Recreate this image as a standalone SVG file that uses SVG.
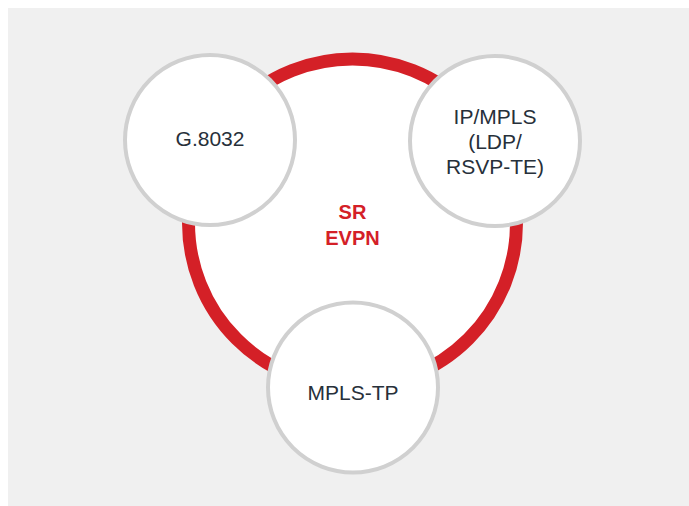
<svg xmlns="http://www.w3.org/2000/svg" width="689" height="506" viewBox="0 0 689 506">
<style>
.node{fill:#ffffff;stroke:#d0d0d0;stroke-width:4}
.lbl{font-family:"Liberation Sans",Arial,sans-serif;font-size:21px;fill:#27303a;text-anchor:middle}
.core{font-family:"Liberation Sans",Arial,sans-serif;font-size:20px;font-weight:bold;fill:#d42027;text-anchor:middle}
</style>
<rect x="0" y="0" width="689" height="506" fill="#ffffff"/>
<rect x="8" y="8" width="681" height="498" fill="#f0f0f0"/>
<g id="connectors">
<circle cx="352.5" cy="223" r="164" fill="#ffffff" stroke="#d42027" stroke-width="13"/>
</g>
<g id="sr-evpn">
<text class="core" x="352.5" y="219">SR</text>
<text class="core" x="352.5" y="245">EVPN</text>
</g>
<g id="g8032">
<circle class="node" cx="210" cy="140" r="85"/>
<text class="lbl" x="210" y="146">G.8032</text>
</g>
<g id="ip-mpls">
<circle class="node" cx="495" cy="141" r="85"/>
<text class="lbl" x="495" y="124">IP/MPLS</text>
<text class="lbl" x="495" y="149">(LDP/</text>
<text class="lbl" x="495" y="174">RSVP-TE)</text>
</g>
<g id="mpls-tp">
<circle class="node" cx="353" cy="387.5" r="85"/>
<text class="lbl" x="353" y="400">MPLS-TP</text>
</g>
</svg>
